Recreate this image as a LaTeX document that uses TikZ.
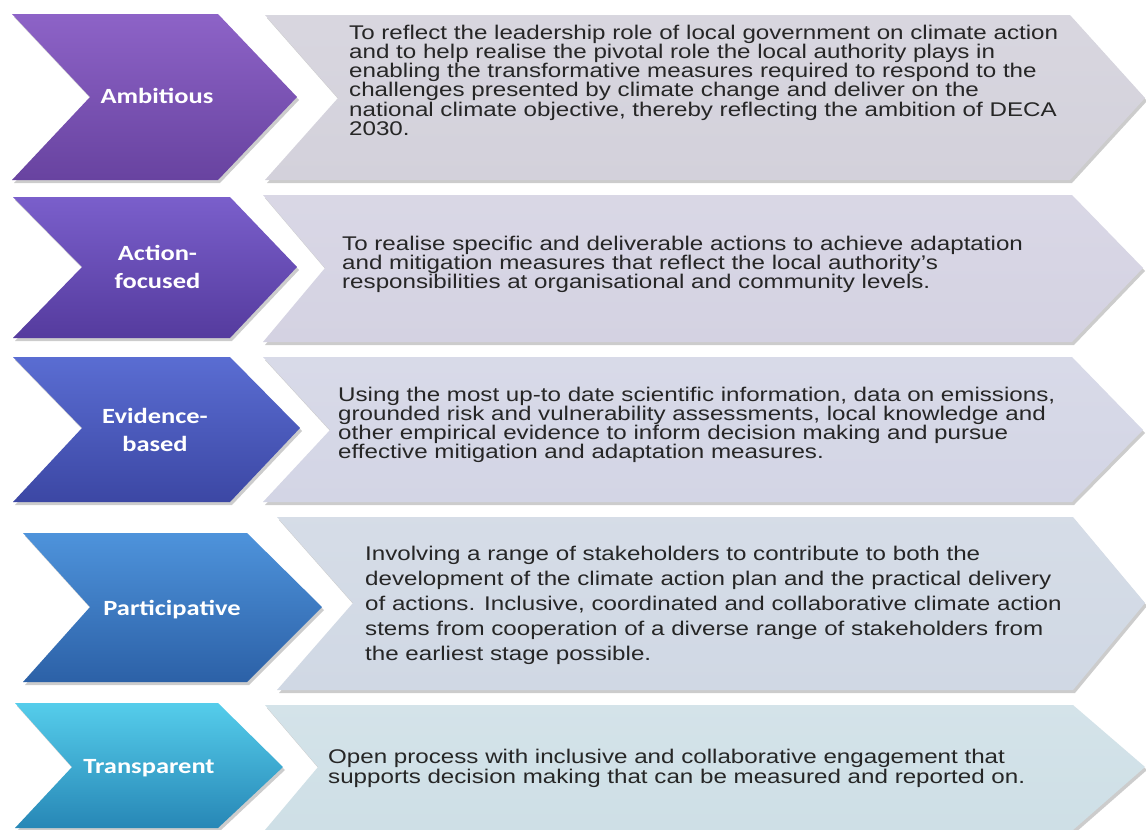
\documentclass[tikz,border=0pt]{standalone}
\usepackage{fontspec}
\newfontfamily\descfont{Liberation Sans}[FakeStretch=1.22]
\newfontfamily\labfont{Carlito}[FakeStretch=1.22]
\definecolor{txtgray}{HTML}{262626}
\definecolor{aT}{HTML}{8D63C7}\definecolor{aM}{HTML}{7B52B6}\definecolor{aB}{HTML}{6843A0}
\definecolor{bT}{HTML}{7A5FCB}\definecolor{bM}{HTML}{6649B4}\definecolor{bB}{HTML}{553B9E}
\definecolor{cT}{HTML}{5A6DD2}\definecolor{cM}{HTML}{4A58BE}\definecolor{cB}{HTML}{3C47A4}
\definecolor{dT}{HTML}{4E93DB}\definecolor{dM}{HTML}{3A79C5}\definecolor{dB}{HTML}{2C61A7}
\definecolor{eT}{HTML}{55CDEB}\definecolor{eM}{HTML}{33AAD5}\definecolor{eB}{HTML}{2787B6}
\definecolor{g1}{HTML}{D3D1DB}\definecolor{g2}{HTML}{D4D2E2}\definecolor{g3}{HTML}{D3D5E5}
\definecolor{g4}{HTML}{D0D8E4}\definecolor{g5}{HTML}{CEDFE6}
\newcommand{\chevpath}[7]{(#1,#5) -- (#3,#5) -- (#4,#6) -- (#3,#7) -- (#1,#7) -- (#2,#6) -- cycle}
\tikzset{
  dropshade/.style={fill=black, opacity=0.2},
  colchev/.style args={#1/#2/#3}{top color=#1, middle color=#2, bottom color=#3, draw=none},
  graychev/.style={top color=#1!88!white, bottom color=#1, draw=none},
  desc/.style={anchor=north west, inner sep=0pt, align=left, text=txtgray,
    font=\descfont\fontsize{19.8}{19.2}\selectfont},
  lab/.style={anchor=north, inner sep=0pt, align=center, text=white,
    font=\labfont\bfseries\fontsize{21.7}{28.5}\selectfont},
}
\begin{document}
\begin{tikzpicture}[x=1pt,y=-1pt]
\fill[white] (0,0) rectangle (1146,830);
\useasboundingbox (0,0) rectangle (1146,830);
% ---- shadows
\begin{scope}[xshift=2pt,yshift=-3pt]
\fill[dropshade] \chevpath{12}{90}{218}{297}{14}{97}{180};
\fill[dropshade] \chevpath{265}{338}{1070}{1145}{15}{98}{180};
\fill[dropshade] \chevpath{13}{82}{230}{297}{197}{267}{338};
\fill[dropshade] \chevpath{263}{325}{1072}{1143}{195}{268}{342};
\fill[dropshade] \chevpath{13}{82}{230}{300}{357}{428}{502};
\fill[dropshade] \chevpath{263}{330}{1072}{1143}{357}{430}{502};
\fill[dropshade] \chevpath{23}{90}{247}{322}{533}{607}{682};
\fill[dropshade] \chevpath{277}{353}{1073}{1145}{517}{603}{690};
\fill[dropshade] \chevpath{15}{72}{218}{283}{703}{767}{828};
\fill[dropshade] \chevpath{265}{318}{1073}{1145}{705}{767}{830};
\end{scope}
% ---- gray chevrons
\shade[graychev=g1] \chevpath{265}{338}{1070}{1145}{15}{98}{180};
\shade[graychev=g2] \chevpath{263}{325}{1072}{1143}{195}{268}{342};
\shade[graychev=g3] \chevpath{263}{330}{1072}{1143}{357}{430}{502};
\shade[graychev=g4] \chevpath{277}{353}{1073}{1145}{517}{603}{690};
\shade[graychev=g5] \chevpath{265}{318}{1073}{1145}{705}{767}{830};
% ---- coloured chevrons
\shade[colchev=aT/aM/aB] \chevpath{12}{90}{218}{297}{14}{97}{180};
\shade[colchev=bT/bM/bB] \chevpath{13}{82}{230}{297}{197}{267}{338};
\shade[colchev=cT/cM/cB] \chevpath{13}{82}{230}{300}{357}{428}{502};
\shade[colchev=dT/dM/dB] \chevpath{23}{90}{247}{322}{533}{607}{682};
\shade[colchev=eT/eM/eB] \chevpath{15}{72}{218}{283}{703}{767}{828};
% ---- labels
\node[lab] (lab1) at (157,87) {\rule{0pt}{16pt}Ambitious};
\node[lab] (lab2) at (157.5,244) {\rule{0pt}{16pt}Action-\\focused};
\node[lab] (lab3) at (155,407) {\rule{0pt}{16pt}Evidence-\\based};
\node[lab] (lab4) at (172,599) {\rule{0pt}{16pt}Participative};
\node[lab] (lab5) at (149,757) {\rule{0pt}{16pt}Transparent};
% ---- descriptions
\node[desc] (txt1) at (349,24) {\rule{0pt}{15pt}To reflect the leadership role of local government on climate action\\
and to help realise the pivotal role the local authority plays in\\
enabling the transformative measures required to respond to the\\
challenges presented by climate change and deliver on the\\
national climate objective, thereby reflecting the ambition of DECA\\
2030.};
\node[desc] (txt2) at (342,235) {\rule{0pt}{15pt}To realise specific and deliverable actions to achieve adaptation\\
and mitigation measures that reflect the local authority’s\\
responsibilities at organisational and community levels.};
\node[desc] (txt3) at (338,386) {\rule{0pt}{15pt}Using the most up-to date scientific information, data on emissions,\\
grounded risk and vulnerability assessments, local knowledge and\\
other empirical evidence to inform decision making and pursue\\
effective mitigation and adaptation measures.};
\node[desc, font=\descfont\fontsize{19.8}{25}\selectfont] (txt4) at (365,545) {\rule{0pt}{15pt}Involving a range of stakeholders to contribute to both the\\
development of the climate action plan and the practical delivery\\
of actions. Inclusive, coordinated and collaborative climate action\\
stems from cooperation of a diverse range of stakeholders from\\
the earliest stage possible.};
\node[desc, font=\descfont\fontsize{19.8}{20}\selectfont] (txt5) at (328,748) {\rule{0pt}{15pt}Open process with inclusive and collaborative engagement that\\
supports decision making that can be measured and reported on.};
\end{tikzpicture}
\end{document}
